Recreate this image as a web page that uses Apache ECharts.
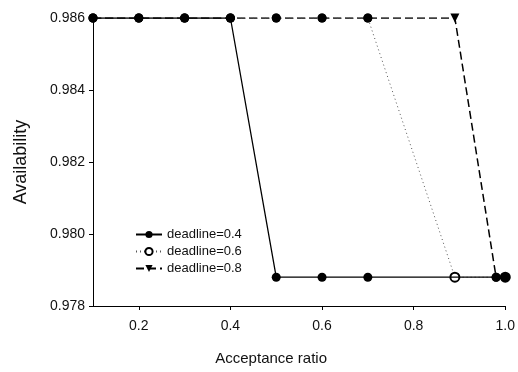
<!DOCTYPE html>
<html>
<head>
<meta charset="utf-8">
<script src="https://cdn.jsdelivr.net/npm/echarts@6/dist/echarts.min.js"></script>
<style>html,body{margin:0;padding:0;background:#fff;}#c{width:518px;height:372px;}</style>
</head>
<body>
<div id="c"></div>
<script>
// ---- data ----
const seriesNames = ['deadline=0.4', 'deadline=0.6', 'deadline=0.8'];
const d04X = [0.1, 0.2, 0.3, 0.4, 0.5, 0.6, 0.7, 0.98, 1.0];
const d04Y = [0.986, 0.986, 0.986, 0.986, 0.9788, 0.9788, 0.9788, 0.9788, 0.9788];
const d06X = [0.1, 0.2, 0.3, 0.4, 0.5, 0.6, 0.7, 0.89, 1.0];
const d06Y = [0.986, 0.986, 0.986, 0.986, 0.986, 0.986, 0.986, 0.9788, 0.9788];
const d08X = [0.1, 0.2, 0.3, 0.4, 0.5, 0.6, 0.7, 0.89, 0.98, 1.0];
const d08Y = [0.986, 0.986, 0.986, 0.986, 0.986, 0.986, 0.986, 0.986, 0.9788, 0.9788];
const xTicks = [0.2, 0.4, 0.6, 0.8, 1.0];
const yTicks = [0.978, 0.980, 0.982, 0.984, 0.986];

// ---- build ----
const font = 'Liberation Sans, Arial, sans-serif';
const pairs = (xs, ys) => xs.map((x, i) => [x, ys[i]]);
const yTop = Math.max(...d06Y);

const data04 = pairs(d04X, d04Y);
const data06 = pairs(d06X, d06Y).map(v => v[1] >= yTop ? { value: v, symbol: 'circle' } : { value: v });
const drop08 = d08Y.findIndex(v => v < yTop) - 1;
const data08 = pairs(d08X, d08Y).map((v, i) => i === drop08 ? { value: v } : { value: v, symbol: 'circle', symbolRotate: 0 });

const chart = echarts.init(document.getElementById('c'), null, { renderer: 'canvas' });
chart.setOption({
  animation: false,
  backgroundColor: '#fff',
  grid: { left: 93, right: 10, top: 18, bottom: 66, containLabel: false },
  legend: {
    orient: 'vertical',
    left: 130, top: 223,
    itemWidth: 26, itemHeight: 9, itemGap: 4,
    textStyle: { fontFamily: font, fontSize: 13, color: '#111' },
    data: seriesNames
  },
  xAxis: {
    type: 'value', min: 0.1, max: 1.0,
    name: 'Acceptance ratio', nameLocation: 'middle', nameGap: 45,
    nameTextStyle: { fontFamily: font, fontSize: 15, color: '#111', padding: [0, 56, 0, 0] },
    axisLine: { show: true, lineStyle: { color: '#000', width: 1 } },
    axisTick: { show: true, length: 4, customValues: xTicks, lineStyle: { color: '#000' } },
    axisLabel: { customValues: xTicks, margin: 13, fontFamily: font, fontSize: 14, color: '#111', formatter: v => v.toFixed(1) },
    splitLine: { show: false }
  },
  yAxis: {
    type: 'value', min: 0.978, max: 0.986,
    name: 'Availability', nameLocation: 'middle', nameGap: 63,
    nameTextStyle: { fontFamily: font, fontSize: 18, color: '#111' },
    axisLine: { show: true, lineStyle: { color: '#000', width: 1 } },
    axisTick: { show: true, length: 4, customValues: yTicks, lineStyle: { color: '#000' } },
    axisLabel: { customValues: yTicks, margin: 8, fontFamily: font, fontSize: 14, color: '#111', formatter: v => v.toFixed(3) },
    splitLine: { show: false }
  },
  series: [
    {
      name: seriesNames[2], type: 'line', data: data08, z: 2,
      symbol: 'triangle', symbolRotate: 180, symbolSize: 9,
      itemStyle: { color: '#000' },
      lineStyle: { color: '#000', width: 1.5, type: [8, 4] }
    },
    {
      name: seriesNames[1], type: 'line', data: data06, z: 3,
      symbol: 'emptyCircle', symbolSize: 9,
      itemStyle: { color: '#000', borderWidth: 1 },
      lineStyle: { color: '#555', width: 1, type: [1, 3] }
    },
    {
      name: seriesNames[0], type: 'line', data: data04, z: 4,
      symbol: 'circle', symbolSize: 9,
      itemStyle: { color: '#000' },
      lineStyle: { color: '#000', width: 1.3, type: 'solid' }
    }
  ]
});
</script>
</body>
</html>
